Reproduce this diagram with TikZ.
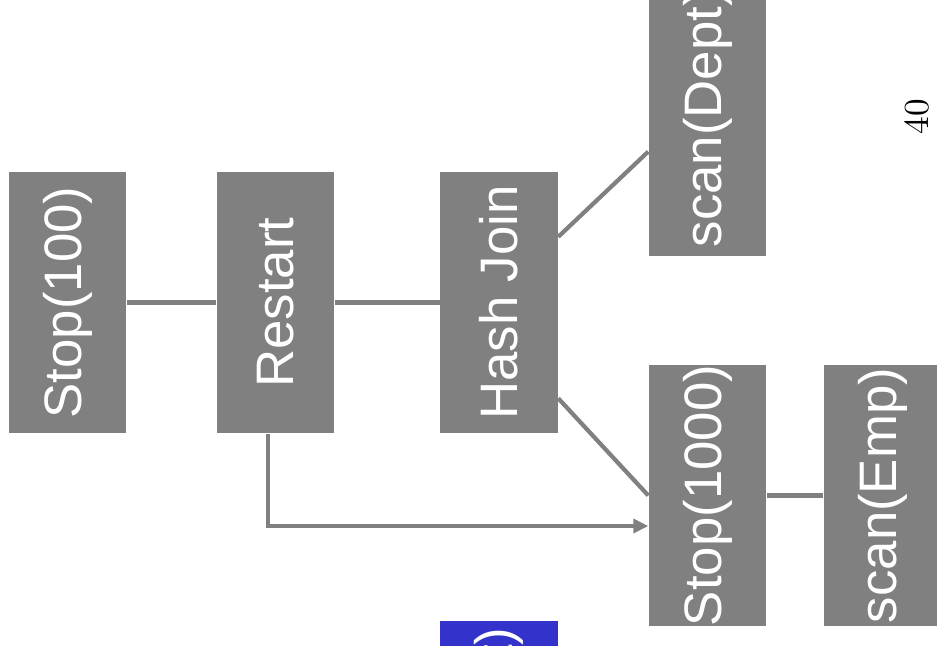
\documentclass[tikz,border=0pt]{standalone}
\usepackage{fontspec}
\newfontfamily\boxfont{Liberation Sans}
\usetikzlibrary{arrows.meta,calc}
\definecolor{opblue}{RGB}{51,51,204}

\begin{document}
\begin{tikzpicture}[x=0.01cm,y=-0.01cm,
    op/.style={fill=gray,text=white,rotate=90,inner sep=0pt,
      minimum width=2.61cm,minimum height=1.17cm,
      font=\boxfont\fontsize{15}{18}\selectfont},
    wire/.style={draw=gray,line width=1.2pt}]
  \path[use as bounding box] (0,0) rectangle (937,646);
  \clip (0,0) rectangle (937,646);
  % operators of the plan
  \node[op] (stop100) at (67.5,302.5) {Stop(100)};
  \node[op] (restart) at (275.5,302.5) {Restart};
  \node[op] (hashjoin) at (499,302.5) {Hash Join};
  \node[op,anchor=west,inner xsep=0.09cm] (scandept) at (707.5,257) {scan(Dept)};
  \node[op] (stop1000) at (707.5,495.5) {Stop(1000)};
  \node[op] (scanemp) at (882.5,495.5) {scan(Emp)};
  \node[op,fill=opblue,anchor=east,inner xsep=0.07cm] (blueop) at (499,620) {scan(Dept)};
  \node[rotate=90] (pagenum) at (917,117) {40};
  % edges
  \draw[wire] (stop100) -- (restart);
  \draw[wire] (restart) -- (hashjoin);
  \draw[wire] ($(hashjoin.south)!0.5!(hashjoin.south east)$)
    -- ($(scandept.north)!0.24!(scandept.north west)$);
  \draw[wire] ($(hashjoin.south)!0.73!(hashjoin.south west)$) -- (stop1000.north);
  \draw[wire] (stop1000) -- (scanemp);
  \draw[wire,-{Triangle[length=0.15cm,width=0.14cm]}]
    ([xshift=-0.075cm]restart.west) |- ([yshift=-0.305cm]stop1000.north);
\end{tikzpicture}
\end{document}
